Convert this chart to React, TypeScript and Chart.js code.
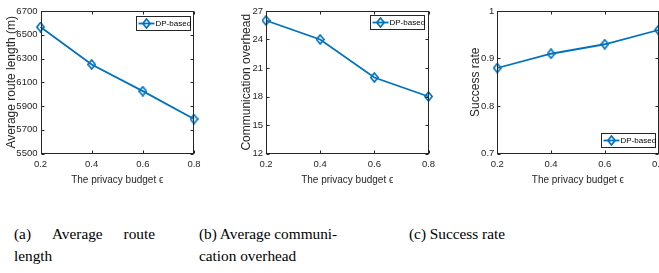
import React, { useEffect, useRef } from "react";
import { Chart, registerables } from "chart.js";
Chart.register(...registerables);

// ---- data ----
const budgets = [0.2, 0.4, 0.6, 0.8];
const xTicks = [0.2, 0.4, 0.6, 0.8];
const seriesLabel = "DP-based";
const xTitle = "The privacy budget \u03F5";

const routeLength = [6565, 6250, 6025, 5790];
const routeTicks = [5500, 5700, 5900, 6100, 6300, 6500, 6700];

const commOverhead = [26, 24, 20, 18];
const commTicks = [12, 15, 18, 21, 24, 27];

const successRate = [0.88, 0.91, 0.93, 0.96];
const successTicks = [0.7, 0.8, 0.9, 1];

// ---- style ----
const BLUE = "#0072BD";
const AXIS = "#262626";
const SANS = "'Liberation Sans', Arial, Helvetica, sans-serif";

function makeDiamond(): HTMLCanvasElement {
  const c = document.createElement("canvas");
  c.width = 9;
  c.height = 11;
  const g = c.getContext("2d")!;
  g.strokeStyle = BLUE;
  g.lineWidth = 1.6;
  g.beginPath();
  g.moveTo(4.5, 0.9);
  g.lineTo(8.1, 5.5);
  g.lineTo(4.5, 10.1);
  g.lineTo(0.9, 5.5);
  g.closePath();
  g.stroke();
  return c;
}

type Spec = {
  left: number;
  width: number;
  yAxisWidth: number;
  yTitlePad: number;
  padRight: number;
  values: number[];
  yTicks: number[];
  yTitle: string;
  legendPos: "top" | "bottom";
  legendInsetX: number;
  legendInsetY: number;
};

const HEIGHT = 186;
const X_AXIS_H = 32.5;
const PAD_TOP = 11;

const framePlugin = {
  id: "matlabFrame",
  afterDraw(chart: any, _args: any, opts: any) {
    const { ctx, chartArea: a } = chart;
    const L = Math.round(a.left) + 0.5;
    const R = Math.round(a.right) - 0.5;
    const T = Math.round(a.top) + 0.5;
    const B = Math.round(a.bottom) - 0.5;
    ctx.save();
    ctx.strokeStyle = AXIS;
    ctx.lineWidth = 1;
    ctx.beginPath();
    const xs = chart.scales.x;
    const ys = chart.scales.y;
    xs.ticks.forEach((t: any) => {
      const px = Math.round(xs.getPixelForValue(t.value)) + 0.5;
      ctx.moveTo(px, B);
      ctx.lineTo(px, B - 3);
      ctx.moveTo(px, T);
      ctx.lineTo(px, T + 3);
    });
    ys.ticks.forEach((t: any) => {
      const py = Math.round(ys.getPixelForValue(t.value)) + 0.5;
      ctx.moveTo(L, py);
      ctx.lineTo(L + 3, py);
      ctx.moveTo(R, py);
      ctx.lineTo(R - 3, py);
    });
    ctx.stroke();
    ctx.strokeRect(L, T, R - L, B - T);

    // legend
    const w = 54;
    const h = 14;
    const bx = Math.round(R - opts.insetX - w) + 0.5;
    const by =
      opts.pos === "top"
        ? Math.round(T + opts.insetY) + 0.5
        : Math.round(B - opts.insetY - h) + 0.5;
    ctx.fillStyle = "#ffffff";
    ctx.fillRect(bx, by, w, h);
    ctx.strokeStyle = AXIS;
    ctx.strokeRect(bx, by, w, h);
    const cy = by + h / 2;
    ctx.strokeStyle = BLUE;
    ctx.lineWidth = 1.8;
    ctx.beginPath();
    ctx.moveTo(bx + 2, cy);
    ctx.lineTo(bx + 18, cy);
    ctx.stroke();
    const d = opts.diamond as HTMLCanvasElement;
    ctx.drawImage(d, bx + 10 - d.width / 2, cy - d.height / 2);
    ctx.fillStyle = "#000000";
    ctx.font = `8px ${SANS}`;
    ctx.textBaseline = "middle";
    ctx.textAlign = "left";
    ctx.fillText(chart.data.datasets[0].label, bx + 19, cy + 0.5);
    ctx.restore();
  },
};

function Panel({ spec }: { spec: Spec }) {
  const ref = useRef<HTMLCanvasElement>(null);
  useEffect(() => {
    const diamond = makeDiamond();
    const chart = new Chart(ref.current!, {
      type: "line",
      data: {
        labels: budgets,
        datasets: [
          {
            label: seriesLabel,
            data: budgets.map((b, i) => ({ x: b, y: spec.values[i] })),
            borderColor: BLUE,
            backgroundColor: BLUE,
            borderWidth: 1.8,
            pointStyle: diamond,
            pointRadius: 5,
            tension: 0,
            clip: false as any,
          },
        ],
      },
      options: {
        animation: false,
        responsive: false,
        devicePixelRatio: 1,
        layout: {
          padding: { left: 0, right: spec.padRight, top: PAD_TOP, bottom: 0 },
        },
        plugins: {
          legend: { display: false },
          tooltip: { enabled: false },
          matlabFrame: {
            pos: spec.legendPos,
            insetX: spec.legendInsetX,
            insetY: spec.legendInsetY,
            diamond,
          },
        } as any,
        scales: {
          x: {
            type: "linear",
            min: 0.2,
            max: 0.8,
            grid: { display: false, drawTicks: false },
            border: { display: false },
            afterBuildTicks: (s: any) => {
              s.ticks = xTicks.map((v) => ({ value: v }));
            },
            afterFit: (s: any) => {
              s.height = X_AXIS_H;
            },
            ticks: {
              color: AXIS,
              font: { family: SANS, size: 9.5 },
              padding: 5,
              maxRotation: 0,
              autoSkip: false,
              callback: (v: any) => Number(v).toFixed(1),
            },
            title: {
              display: true,
              text: xTitle,
              color: AXIS,
              font: { family: SANS, size: 10 },
              padding: { top: 0, bottom: 0 },
            },
          },
          y: {
            type: "linear",
            min: spec.yTicks[0],
            max: spec.yTicks[spec.yTicks.length - 1],
            grid: { display: false, drawTicks: false },
            border: { display: false },
            afterBuildTicks: (s: any) => {
              s.ticks = spec.yTicks.map((v) => ({ value: v }));
            },
            afterFit: (s: any) => {
              s.width = spec.yAxisWidth;
            },
            ticks: {
              color: AXIS,
              font: { family: SANS, size: 9.5 },
              padding: 3,
              autoSkip: false,
              callback: (v: any) => String(Math.round(Number(v) * 100) / 100),
            },
            title: {
              display: true,
              text: spec.yTitle,
              color: AXIS,
              font: { family: SANS, size: 12 },
              padding: { top: spec.yTitlePad, bottom: 0 },
            },
          },
        },
      },
      plugins: [framePlugin as any],
    });
    return () => chart.destroy();
  }, [spec]);
  return (
    <canvas
      ref={ref}
      width={spec.width}
      height={HEIGHT}
      style={{ position: "absolute", left: spec.left, top: 0, display: "block" }}
    />
  );
}

const specA: Spec = {
  left: 0,
  width: 210,
  yAxisWidth: 40.5,
  yTitlePad: 4.5,
  padRight: 16,
  values: routeLength,
  yTicks: routeTicks,
  yTitle: "Average route length (m)",
  legendPos: "top",
  legendInsetX: 4,
  legendInsetY: 4,
};
const specB: Spec = {
  left: 220,
  width: 225,
  yAxisWidth: 46,
  yTitlePad: 19.5,
  padRight: 16.5,
  values: commOverhead,
  yTicks: commTicks,
  yTitle: "Communication overhead",
  legendPos: "top",
  legendInsetX: 5,
  legendInsetY: 3.5,
};
const specC: Spec = {
  left: 440,
  width: 240,
  yAxisWidth: 57.3,
  yTitlePad: 28.1,
  padRight: 21.5,
  values: successRate,
  yTicks: successTicks,
  yTitle: "Success rate",
  legendPos: "bottom",
  legendInsetX: 3.5,
  legendInsetY: 6.5,
};

const SERIF = "'Liberation Serif', 'Times New Roman', Times, serif";
const capStyle: React.CSSProperties = {
  position: "absolute",
  fontFamily: SERIF,
  fontSize: 15.3,
  lineHeight: "21.5px",
  color: "#000",
  whiteSpace: "nowrap",
};

export default function App() {
  return (
    <div
      style={{
        position: "absolute",
        left: 0,
        top: 0,
        width: 659,
        height: 273,
        overflow: "hidden",
        background: "#fff",
      }}
    >
      <Panel spec={specA} />
      <Panel spec={specB} />
      <Panel spec={specC} />
      <div style={{ ...capStyle, left: 14, top: 223, width: 141 }}>
        <div style={{ display: "flex", justifyContent: "space-between" }}>
          <span>(a)</span>
          <span>Average</span>
          <span>route</span>
        </div>
        <div>length</div>
      </div>
      <div style={{ ...capStyle, left: 199, top: 223 }}>
        <div>(b) Average communi-</div>
        <div>cation overhead</div>
      </div>
      <div style={{ ...capStyle, left: 409, top: 223 }}>
        <div>(c) Success rate</div>
      </div>
    </div>
  );
}
